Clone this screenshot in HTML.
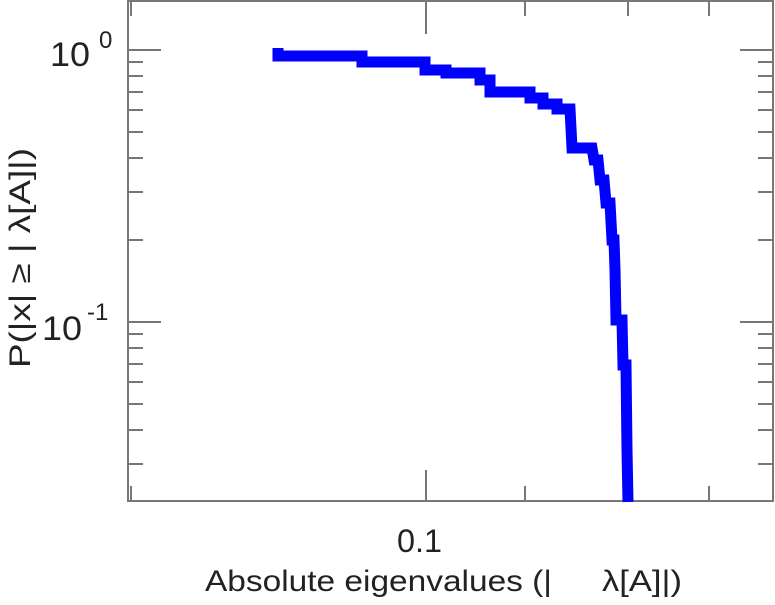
<!DOCTYPE html>
<html><head><style>body{margin:0;background:#fff}svg text{font-family:"Liberation Sans",sans-serif;fill:#222}</style></head>
<body>
<svg width="775" height="600" viewBox="0 0 775 600">
<g stroke="#777" stroke-width="2" fill="none">
<rect x="128" y="1" width="645" height="500"/>
<path d="M128 50h33M128 62h15M128 76h15M128 92h15M128 110h15M128 132h15M128 158h15M128 192h15M128 240h15
M128 322h33M128 334h15M128 348h15M128 364h15M128 382h15M128 404h15M128 430h15M128 464h15
M773 50h-33M773 62h-15M773 76h-15M773 92h-15M773 110h-15M773 132h-15M773 158h-15M773 192h-15M773 240h-15
M773 322h-33M773 334h-15M773 348h-15M773 364h-15M773 382h-15M773 404h-15M773 430h-15M773 464h-15
M131 501v-15M426 501v-31M525 501v-15M628 501v-15M709 501v-15M131 1v15M426 1v33M525 1v15M628 1v15M709 1v15"/>
</g>
<polyline fill="none" stroke="#0000ff" stroke-width="11" stroke-linejoin="miter" points="278,48 278,56 362,56 362,62 425,62 425,70 446,70 446,73 480,73 480,80 490,80 490,92 530,92 530,98 543,98 543,104 557,104 557,109 570,109 572,148 592,148 594,160 598,160 600,180 604,180 606,203 610,203 612,240 614,240 615,270 616,320 622,320 623,365 626,365 627,450 628,502"/>
<text x="50" y="66" font-size="34" textLength="40" lengthAdjust="spacingAndGlyphs">10</text><text x="99" y="48" font-size="24">0</text>
<text x="42" y="340" font-size="34" textLength="40" lengthAdjust="spacingAndGlyphs">10</text><text x="87" y="320" font-size="24">-1</text>
<text x="397" y="552" font-size="32" textLength="45" lengthAdjust="spacingAndGlyphs">0.1</text>
<text x="205" y="591" font-size="30" textLength="347" lengthAdjust="spacingAndGlyphs">Absolute eigenvalues (|</text>
<text x="602" y="591" font-size="30" textLength="80" lengthAdjust="spacingAndGlyphs">λ[A]|)</text>
<text transform="translate(30,368) rotate(-90)" font-size="30" textLength="220" lengthAdjust="spacingAndGlyphs">P(|x|  ≥ | λ[A]|)</text>
</svg>
</body></html>
